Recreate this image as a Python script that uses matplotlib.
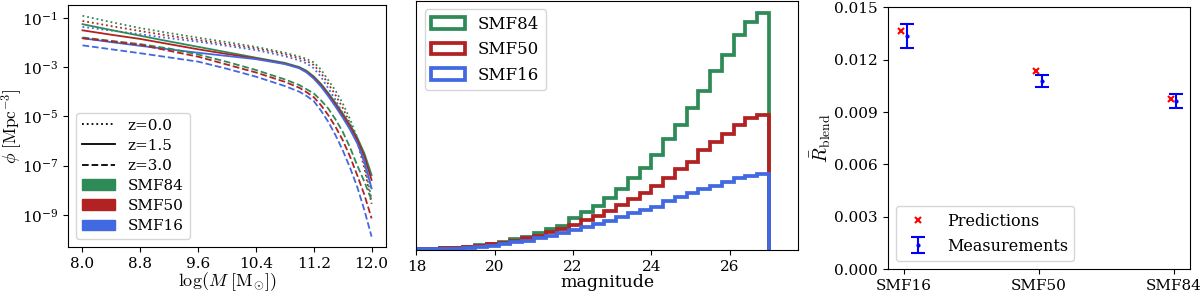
import numpy as np
import matplotlib
matplotlib.use("Agg")
import matplotlib.pyplot as plt
from matplotlib.lines import Line2D
from matplotlib.patches import Patch

plt.rcParams['font.family'] = ['DejaVu Serif']
plt.rcParams['mathtext.fontset'] = 'cm'

# ---------------- data ----------------
smf_names = ["SMF84", "SMF50", "SMF16"]
smf_colors = ["#2e8b57", "#b22222", "#4169e1"]

logM = [8.0, 8.4, 8.8, 9.2, 9.6, 10.0, 10.4, 10.8, 11.0, 11.1, 11.2, 11.3,
        11.4, 11.5, 11.6, 11.7, 11.8, 11.9, 12.0]

# log10(phi), z = 0.0 (dotted)
z0_smf84 = [-0.92, -1.18, -1.42, -1.62, -1.81, -1.99, -2.18, -2.42, -2.57, -2.67, -2.81, -3.10,
            -3.53, -3.95, -4.47, -5.10, -5.85, -6.95, -8.35]
z0_smf50 = [-1.13, -1.34, -1.54, -1.73, -1.90, -2.07, -2.24, -2.48, -2.64, -2.75, -2.92, -3.24,
            -3.68, -4.13, -4.65, -5.28, -6.00, -7.10, -8.55]
z0_smf16 = [-1.37, -1.52, -1.67, -1.83, -1.97, -2.14, -2.31, -2.56, -2.73, -2.85, -3.05, -3.40,
            -3.86, -4.33, -4.88, -5.45, -6.05, -6.85, -7.98]
# z = 1.5 (solid)
z15_smf84 = [-1.26, -1.50, -1.73, -1.96, -2.18, -2.40, -2.62, -2.83, -3.00, -3.15, -3.38, -3.68,
             -4.05, -4.45, -4.88, -5.33, -5.85, -6.50, -7.38]
z15_smf50 = [-1.51, -1.69, -1.86, -2.07, -2.28, -2.47, -2.65, -2.86, -3.03, -3.19, -3.42, -3.73,
             -4.11, -4.51, -4.95, -5.41, -5.94, -6.62, -7.58]
z15_smf16 = [-1.83, -1.99, -2.14, -2.28, -2.42, -2.55, -2.68, -2.88, -3.05, -3.22, -3.47, -3.79,
             -4.18, -4.60, -5.05, -5.53, -6.08, -6.80, -7.92]
# z = 3.0 (dashed)
z3_smf84 = [-1.80, -1.94, -2.07, -2.25, -2.49, -2.79, -3.12, -3.50, -3.73, -3.90, -4.07, -4.35,
            -4.68, -5.12, -5.62, -6.25, -6.98, -7.65, -8.40]
z3_smf50 = [-1.83, -1.96, -2.10, -2.34, -2.58, -2.90, -3.22, -3.60, -3.84, -4.02, -4.22, -4.55,
            -4.95, -5.42, -5.96, -6.62, -7.38, -8.18, -9.14]
z3_smf16 = [-2.12, -2.28, -2.44, -2.61, -2.78, -3.07, -3.39, -3.77, -4.00, -4.17, -4.38, -4.77,
            -5.22, -5.76, -6.37, -7.07, -7.85, -8.80, -9.88]

z_labels = ["z=0.0", "z=1.5", "z=3.0"]
z_styles = [":", "-", "--"]

# magnitude histogram (bin edges 18..27, width 0.3), relative counts
mag_edges = np.round(np.linspace(18.0, 27.0, 31), 2)
hist_smf84 = [0.7, 1.0, 1.7, 2.3, 3.3, 4.7, 6.3, 8.0, 11.0, 13.3, 16.7, 20.7, 24.3, 31.7, 37.7,
              44.5, 52.3, 60.7, 71.7, 82.3, 95.0, 110.7, 125.0, 141.7, 159.3, 179.0, 195.0,
              214.7, 228.0, 237.3]
hist_smf50 = [0.7, 1.0, 1.7, 2.3, 3.0, 4.0, 5.7, 7.3, 9.3, 11.7, 14.0, 17.7, 20.7, 25.0, 30.0,
              34.5, 39.3, 45.0, 50.7, 56.7, 64.3, 71.7, 80.7, 88.3, 100.0, 108.3, 116.0,
              125.0, 132.3, 135.3]
hist_smf16 = [0.5, 0.5, 0.7, 1.0, 1.7, 3.0, 4.3, 6.0, 7.7, 9.3, 11.7, 14.3, 16.7, 20.0, 23.3,
              26.3, 29.3, 32.7, 36.7, 40.0, 43.3, 48.7, 52.7, 56.7, 60.7, 64.3, 68.3,
              71.7, 74.0, 75.7]

# R_blend
r_cats = ["SMF16", "SMF50", "SMF84"]
r_pred = [0.01363, 0.01137, 0.00973]
r_meas = [0.01336, 0.01078, 0.00964]
r_err = [0.00071, 0.00036, 0.00039]

# ---------------- figure ----------------
fig = plt.figure(figsize=(12, 2.93), dpi=100)

# Left panel
ax1 = fig.add_axes([0.0567, 0.157, 0.265, 0.827])
curves = [[z0_smf84, z0_smf50, z0_smf16],
          [z15_smf84, z15_smf50, z15_smf16],
          [z3_smf84, z3_smf50, z3_smf16]]
for zi, ls in enumerate(z_styles):
    for si, col in enumerate(smf_colors):
        ax1.plot(logM, 10.0 ** np.array(curves[zi][si]), ls=ls, color=col, lw=1.3)
ax1.set_yscale('log')
ax1.set_ylim(10 ** -10.30, 10 ** -0.47)
ax1.set_xlim(7.8, 12.2)
ax1.set_xticks([8.0, 8.8, 9.6, 10.4, 11.2, 12.0])
ax1.set_xticklabels(["8.0", "8.8", "9.6", "10.4", "11.2", "12.0"])
ax1.set_yticks([1e-1, 1e-3, 1e-5, 1e-7, 1e-9])
ax1.minorticks_off()
ax1.tick_params(labelsize=11)
ax1.set_xlabel(r"$\log(M\ [\mathrm{M}_{\odot}])$", fontsize=13, labelpad=0)
ax1.set_ylabel(r"$\phi\ [\mathrm{Mpc}^{-3}]$", fontsize=12.5)
ax1.yaxis.set_label_coords(-0.14, 0.5)
handles = [Line2D([], [], color='k', ls=ls, lw=1.3) for ls in z_styles]
handles += [Patch(facecolor=c, edgecolor=c) for c in smf_colors]
ax1.legend(handles, z_labels + smf_names, loc='lower left', fontsize=11,
           handlelength=2.2, borderaxespad=0.5, labelspacing=0.4)

# Middle panel
ax2 = fig.add_axes([0.3470, 0.1468, 0.3178, 0.850])
centers = 0.5 * (mag_edges[:-1] + mag_edges[1:])
for vals, col, name in zip([hist_smf84, hist_smf50, hist_smf16], smf_colors, smf_names):
    ax2.hist(centers, bins=mag_edges, weights=vals, histtype='step', color=col, lw=2.7,
             label=name)
ax2.set_xlim(18, 27.74)
ax2.set_yticks([])
ax2.set_xticks([18, 20, 22, 24, 26])
ax2.tick_params(labelsize=11)
ax2.set_xlabel("magnitude", fontsize=12.5, labelpad=0)
ax2.legend(loc='upper left', fontsize=12, handlelength=2.0)

# Right panel
ax3 = fig.add_axes([0.7398, 0.0819, 0.2519, 0.893])
xpos = np.arange(len(r_cats))
ax3.plot(xpos - 0.02, r_pred, 'x', color='red', ms=4, mew=1.5, label='Predictions')
ax3.errorbar(xpos + 0.02, r_meas, yerr=r_err, fmt='.', color='blue', ms=4, capsize=5,
             elinewidth=1.5, capthick=1.5, label='Measurements')
ax3.set_ylim(0, 0.015)
ax3.set_yticks([0.0, 0.003, 0.006, 0.009, 0.012, 0.015])
ax3.set_yticklabels(["0.000", "0.003", "0.006", "0.009", "0.012", "0.015"])
ax3.set_xticks(xpos)
ax3.set_xticklabels(r_cats)
ax3.tick_params(labelsize=11)
ax3.set_ylabel(r"$\bar{R}_{\mathrm{blend}}$", fontsize=14, labelpad=1)
ax3.legend(loc='lower left', fontsize=11.5)

fig.savefig("out.png", dpi=100)
